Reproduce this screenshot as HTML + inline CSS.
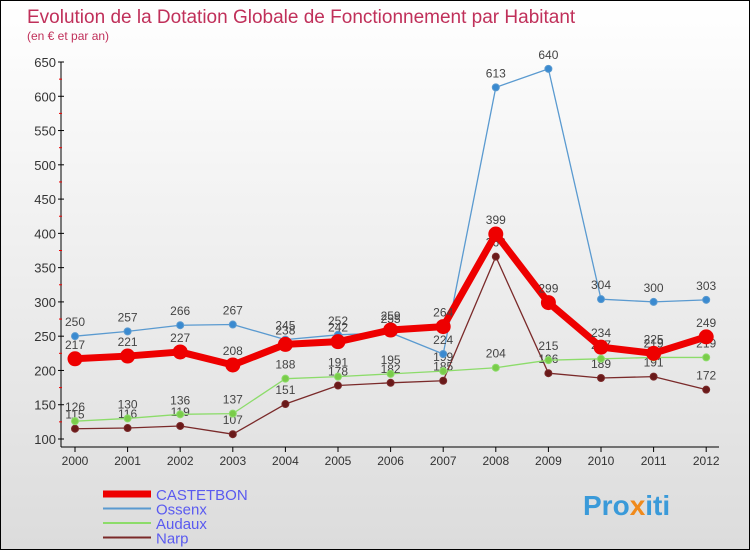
<!DOCTYPE html>
<html><head><meta charset="utf-8">
<style>
html,body{margin:0;padding:0}
body{width:750px;height:550px;overflow:hidden;font-family:"Liberation Sans",sans-serif}
#wrap{position:relative;width:748px;height:548px;border:1px solid #000;background:linear-gradient(#fff,#dcdcdc)}
</style></head><body>
<div id="wrap">
<svg id="chart" width="748" height="548">
<text x="26" y="22" font-size="19" fill="#c0305a">Evolution de la Dotation Globale de Fonctionnement par Habitant</text>
<text x="26" y="39" font-size="12" fill="#c0305a">(en € et par an)</text>
<g id="axes"></g><g id="series"></g><g id="legend"></g>
<text x="582" y="514" font-size="28" font-weight="bold" fill="#3a9ad9">Pro<tspan fill="#f08a1c">x</tspan>iti</text>
</svg>
</div>
<script>
const years=["2000","2001","2002","2003","2004","2005","2006","2007","2008","2009","2010","2011","2012"];
const yTicks=[100,150,200,250,300,350,400,450,500,550,600,650];
const castetbon=[217,221,227,208,238,242,259,264,399,299,234,225,249];
const ossenx=[250,257,266,267,245,252,255,224,613,640,304,300,303];
const audaux=[126,130,136,137,188,191,195,199,204,215,217,219,219];
const narp=[115,116,119,107,151,178,182,185,366,196,189,191,172];
const NS="http://www.w3.org/2000/svg";
function X(i){return 74+i*52.6;}
function Y(v){return 438-(v-100)*(377/550);}
function mk(tag,attrs,parent){const e=document.createElementNS(NS,tag);for(const k in attrs)e.setAttribute(k,attrs[k]);parent.appendChild(e);return e;}
const ax=document.getElementById('axes');
let l=mk('line',{x1:60,y1:Y(650),x2:60,y2:446,stroke:'#000'},ax);


l=mk('line',{x1:60,y1:446,x2:718,y2:446,stroke:'#000'},ax);


yTicks.forEach(v=>{
 mk('line',{x1:57,y1:Y(v),x2:63,y2:Y(v),stroke:'#000'},ax);
 if(v<650) mk('line',{x1:58,y1:Y(v+25),x2:61,y2:Y(v+25),stroke:'#e00'},ax);
 const t=mk('text',{x:55,y:Y(v)+5,'font-size':13,'text-anchor':'end',fill:'#333'},ax);t.textContent=v;
 
 
});
years.forEach((y,i)=>{
 mk('line',{x1:X(i),y1:446,x2:X(i),y2:451,stroke:'#000'},ax);
 const t=mk('text',{x:X(i),y:464,'font-size':12,'text-anchor':'middle',fill:'#333'},ax);t.textContent=y;
 
 
});
const sg=document.getElementById('series');
function series(data,color,w,r,name,dot){
 const g=mk('g',{},sg);
 
 
 mk('polyline',{points:data.map((v,i)=>X(i)+','+Y(v)).join(' '),fill:'none',stroke:color,'stroke-width':w,'stroke-linejoin':'round'},g);
 data.forEach((v,i)=>{
  const c=mk('circle',{cx:X(i),cy:Y(v),r:r,fill:dot,stroke:color,'stroke-width':1},g);
  
  
  const t=mk('text',{x:X(i),y:Y(v)-10,'font-size':12,'text-anchor':'middle',fill:'#444'},g);t.textContent=v;
  
  
 });
}
series(narp,'#7a2a2a',1.3,3.5,'narp-series','#6a1a1a');
series(audaux,'#8cdc6a',1.3,3.5,'audaux-series','#7acc4a');
series(ossenx,'#5a9ad0',1.3,3.5,'ossenx-series','#3a8ad0');
series(castetbon,'#ee0000',7,7,'castetbon-series','#ee0000');
const lg=document.getElementById('legend');
const names=["CASTETBON","Ossenx","Audaux","Narp"],cols=['#ee0000','#5a9ad0','#8cdc6a','#7a2a2a'],ws=[7,2,2,2];
names.forEach((n,i)=>{
 const y=493+i*14.5;
 const g=mk('g',{},lg);
 
 
 mk('line',{x1:102,y1:y,x2:150,y2:y,stroke:cols[i],'stroke-width':ws[i]},g);
 const t=mk('text',{x:155,y:y+6,'font-size':15,fill:'#5a5af0'},g);t.textContent=n;
});
</script>
</body></html>
